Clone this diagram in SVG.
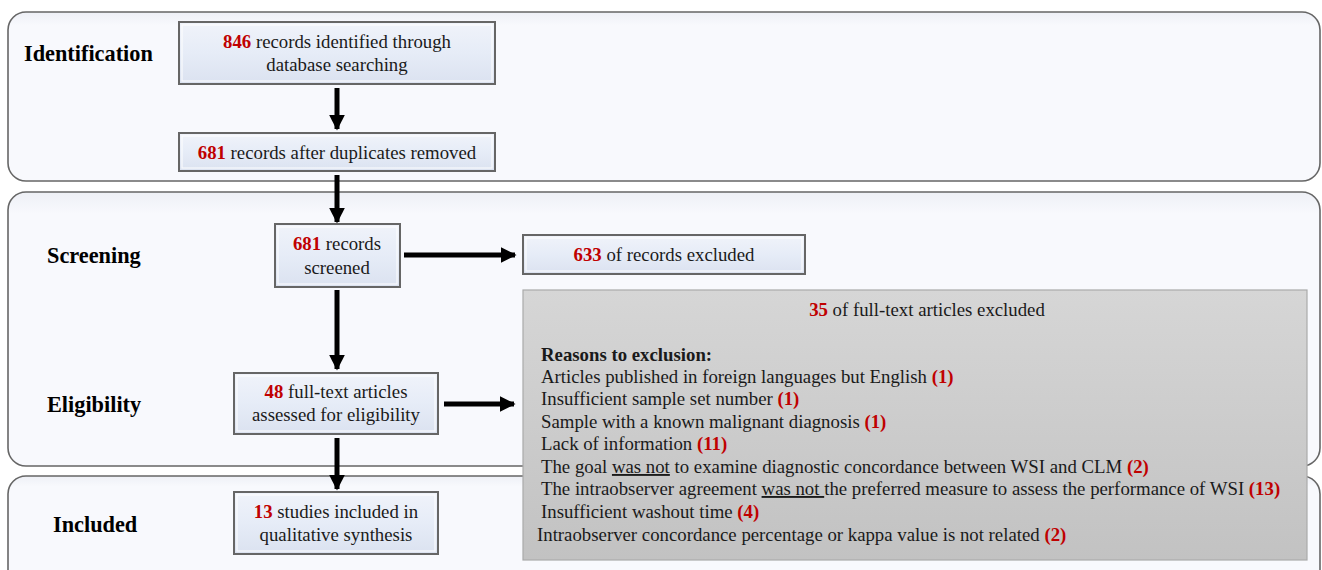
<svg xmlns="http://www.w3.org/2000/svg" width="1322" height="570" viewBox="0 0 1322 570">
<defs>
<linearGradient id="panelG" x1="0" y1="0" x2="0" y2="1">
<stop offset="0" stop-color="#eef0f6"/>
<stop offset="0.08" stop-color="#f8f9fd"/>
<stop offset="1" stop-color="#f8f9fd"/>
</linearGradient>
<linearGradient id="boxG" x1="0" y1="0" x2="0" y2="1">
<stop offset="0" stop-color="#f0f3fa"/>
<stop offset="0.5" stop-color="#e6ecf7"/>
<stop offset="1" stop-color="#dbe2f0"/>
</linearGradient>
<linearGradient id="grayG" x1="0" y1="0" x2="0" y2="1">
<stop offset="0" stop-color="#d6d6d6"/>
<stop offset="1" stop-color="#c2c2c2"/>
</linearGradient>
<marker id="ah" viewBox="0 0 10 10" refX="9" refY="5" markerWidth="3.2" markerHeight="3.2" orient="auto" markerUnits="strokeWidth">
<path d="M0,0 L10,5 L0,10 Z" fill="#000"/>
</marker>
<style>
.panel{fill:url(#panelG);stroke:#666;stroke-width:1.6}
.box{fill:url(#boxG);stroke:#666;stroke-width:2}
.inner{fill:none;stroke:#fff;stroke-width:1.2;opacity:0.8}
.gray{fill:url(#grayG);stroke:#aaa;stroke-width:1.2}
.lbl{font-family:"Liberation Serif","Times New Roman",serif;font-weight:bold;font-size:22.3px;fill:#000}
.t{font-family:"Liberation Serif","Times New Roman",serif;font-size:18.8px;fill:#1a1a1a}
.r{fill:#c00000;font-weight:bold}
.c{text-anchor:middle}
.arr{stroke:#000;stroke-width:5;fill:none;marker-end:url(#ah)}
</style>
</defs>
<rect width="1322" height="570" fill="#fff"/>
<g id="panels">
<rect id="panel-identification" class="panel" x="8" y="12" width="1312" height="169" rx="18"/>
<rect id="panel-screening" class="panel" x="8" y="192" width="1312" height="274" rx="18"/>
<rect id="panel-included" class="panel" x="8" y="476" width="1312" height="130" rx="18"/>
</g>
<g id="stage-labels">
<text class="lbl" x="24" y="61">Identification</text>
<text class="lbl" x="47" y="263">Screening</text>
<text class="lbl" x="47" y="412">Eligibility</text>
<text class="lbl" x="53" y="532">Included</text>
</g>
<g id="connectors">
<line class="arr" x1="337" y1="88" x2="337" y2="129"/>
<line class="arr" x1="337" y1="175" x2="337" y2="222"/>
<line class="arr" x1="404" y1="255" x2="515" y2="255"/>
<line class="arr" x1="337" y1="290" x2="337" y2="369"/>
<line class="arr" x1="444" y1="404" x2="514" y2="404"/>
<line class="arr" x1="337" y1="438" x2="337" y2="489"/>
</g>
<g id="node-identified">
<rect class="box" x="179" y="22" width="316" height="62"/>
<rect class="inner" x="182" y="25" width="310" height="56"/>
<text class="t c" x="337" y="48"><tspan class="r">846</tspan> records identified through</text>
<text class="t c" x="337" y="71">database searching</text>
</g>
<g id="node-dedup">
<rect class="box" x="179" y="133" width="316" height="38"/>
<rect class="inner" x="182" y="136" width="310" height="32"/>
<text class="t c" x="337" y="159"><tspan class="r">681</tspan> records after duplicates removed</text>
</g>
<g id="node-screened">
<rect class="box" x="275" y="224" width="125" height="63"/>
<rect class="inner" x="278" y="227" width="119" height="57"/>
<text class="t c" x="337" y="250"><tspan class="r">681</tspan> records</text>
<text class="t c" x="337" y="274">screened</text>
</g>
<g id="node-excluded-records">
<rect class="box" x="523" y="235" width="282" height="39"/>
<rect class="inner" x="526" y="238" width="276" height="33"/>
<text class="t c" x="664" y="261"><tspan class="r">633</tspan> of records excluded</text>
</g>
<g id="node-fulltext">
<rect class="box" x="234" y="373" width="204" height="61"/>
<rect class="inner" x="237" y="376" width="198" height="55"/>
<text class="t c" x="336" y="398"><tspan class="r">48</tspan> full-text articles</text>
<text class="t c" x="336" y="421">assessed for eligibility</text>
</g>
<g id="node-included">
<rect class="box" x="234" y="492" width="204" height="62"/>
<rect class="inner" x="237" y="495" width="198" height="56"/>
<text class="t c" x="336" y="518"><tspan class="r">13</tspan> studies included in</text>
<text class="t c" x="336" y="541">qualitative synthesis</text>
</g>
<g id="node-excluded-fulltext">
<rect class="gray" x="523" y="290" width="784" height="270"/>
<text class="t c" x="927" y="316"><tspan class="r">35</tspan> of full-text articles excluded</text>
<text class="t" x="541" y="361" font-weight="bold">Reasons to exclusion:</text>
<text class="t" x="541" y="383">Articles published in foreign languages but English <tspan class="r">(1)</tspan></text>
<text class="t" x="541" y="405">Insufficient sample set number <tspan class="r">(1)</tspan></text>
<text class="t" x="541" y="428">Sample with a known malignant diagnosis <tspan class="r">(1)</tspan></text>
<text class="t" x="541" y="450">Lack of information <tspan class="r">(11)</tspan></text>
<text class="t" x="541" y="473">The goal <tspan text-decoration="underline">was not</tspan> to examine diagnostic concordance between WSI and CLM <tspan class="r">(2)</tspan></text>
<text class="t" x="541" y="495">The intraobserver agreement <tspan text-decoration="underline">was not </tspan>the preferred measure to assess the performance of WSI <tspan class="r">(13)</tspan></text>
<text class="t" x="541" y="518">Insufficient washout time <tspan class="r">(4)</tspan></text>
<text class="t" x="537" y="541">Intraobserver concordance percentage or kappa value is not related <tspan class="r">(2)</tspan></text>
</g>
</svg>
